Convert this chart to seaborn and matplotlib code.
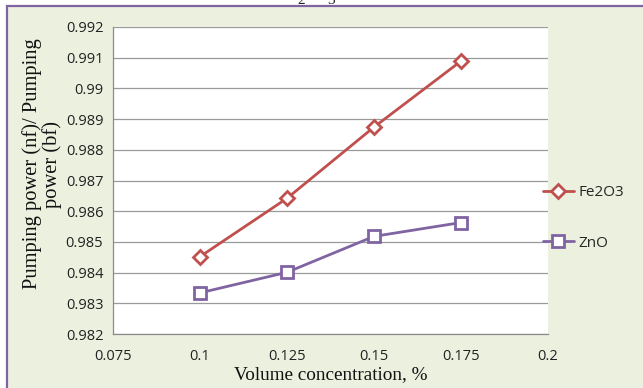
import matplotlib
matplotlib.use("Agg")
import matplotlib.pyplot as plt
from matplotlib.patches import Rectangle
import seaborn as sns
import pandas as pd

# ---- data ----
concentration = [0.1, 0.125, 0.15, 0.175]
fe2o3 = [0.98452, 0.98642, 0.98874, 0.99089]
zno = [0.98334, 0.98401, 0.98518, 0.98563]
x_ticks = [0.075, 0.1, 0.125, 0.15, 0.175, 0.2]
x_tick_labels = ["0.075", "0.1", "0.125", "0.15", "0.175", "0.2"]
y_ticks = [0.982, 0.983, 0.984, 0.985, 0.986, 0.987, 0.988, 0.989, 0.99, 0.991, 0.992]
y_tick_labels = ["0.982", "0.983", "0.984", "0.985", "0.986", "0.987", "0.988", "0.989", "0.99", "0.991", "0.992"]

sns.set_style("white")
plt.rcParams['font.family'] = ['Open Sans', 'DejaVu Sans']

W, H = 643, 388
fig = plt.figure(figsize=(W / 100, H / 100), dpi=100, facecolor="white")

# chart-area background with purple border
bg = Rectangle((7 / W, -0.05), 1.0, (H - 6) / H + 0.05, transform=fig.transFigure,
               facecolor="#EBF0DF", edgecolor="#8064A2", linewidth=1.6, zorder=-10)
fig.patches.append(bg)

# clipped caption fragment at the very top
fig.text(297 / W, (H - 4) / H, "2", fontsize=11, family="Liberation Serif", va="baseline")
fig.text(327 / W, (H - 4) / H, "3", fontsize=11, family="Liberation Serif", va="baseline")

ax = fig.add_axes([113 / W, (H - 334) / H, (548 - 113) / W, (334 - 27) / H])
ax.set_facecolor("white")

red = "#C0504D"
purple = "#8064A2"

sns.lineplot(x=concentration, y=fe2o3, ax=ax, color=red, linewidth=2.0,
             marker="D", markersize=7, markerfacecolor="white",
             markeredgecolor=red, markeredgewidth=2.0, label="Fe2O3", zorder=3)
sns.lineplot(x=concentration, y=zno, ax=ax, color=purple, linewidth=2.0,
             marker="s", markersize=9, markerfacecolor="white",
             markeredgecolor=purple, markeredgewidth=2.0, label="ZnO", zorder=3)

ax.set_xlim(0.075, 0.2)
ax.set_ylim(0.982, 0.992)
ax.set_xticks(x_ticks)
ax.set_xticklabels(x_tick_labels)
ax.set_yticks(y_ticks)
ax.set_yticklabels(y_tick_labels)

ax.yaxis.grid(True, color="#9A9A9A", linewidth=0.9)
ax.xaxis.grid(False)
ax.set_axisbelow(True)

for s in ["top", "right"]:
    ax.spines[s].set_visible(False)
for s in ["left", "bottom"]:
    ax.spines[s].set_color("#8C8C8C")
    ax.spines[s].set_linewidth(0.9)

ax.tick_params(axis="both", which="major", direction="out", length=4, width=0.9,
               color="#8C8C8C", labelsize=10.5, labelcolor="#222222", pad=3)
ax.tick_params(axis="x", pad=7)

ax.set_xlabel("Volume concentration, %", family="Liberation Serif", fontsize=13.8,
              labelpad=1, color="#111111")
ax.set_ylabel("Pumping power (nf)/ Pumping\npower (bf)", family="Liberation Serif",
              fontsize=14.8, color="#111111", linespacing=1.0)
ax.yaxis.set_label_coords((62 - 113) / (548 - 113), (334 - 164) / (334 - 27))

leg = ax.legend(loc="center left", bbox_to_anchor=((537 - 113) / (548 - 113), 0.378),
                frameon=False, fontsize=11, handlelength=2.0, handletextpad=0.3,
                labelspacing=2.3, borderaxespad=0)

fig.savefig("out.png", dpi=100, facecolor=fig.get_facecolor())
